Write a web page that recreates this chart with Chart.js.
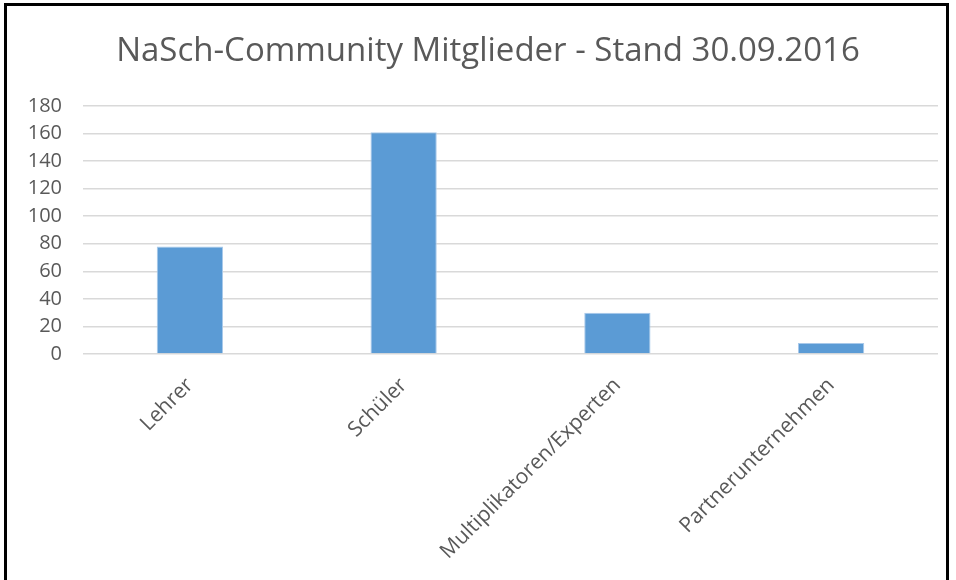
<!DOCTYPE html>
<html>
<head>
<meta charset="utf-8">
<script src="https://cdn.jsdelivr.net/npm/chart.js@4"></script>
<style>
  body { margin: 0; background: #fff; }
  #wrap { position: relative; width: 956px; height: 580px; overflow: hidden; }
  #frame { position: absolute; left: 4px; top: 3px; width: 939px; height: 700px; border: 3px solid #000; pointer-events: none; }
  canvas { position: absolute; left: 0; top: 0; }
</style>
</head>
<body>
<div id="wrap">
  <canvas id="memberChart" width="956" height="580"></canvas>
  <div id="frame"></div>
</div>
<script>
'use strict';

// chart data
var categories = ['Lehrer', 'Schüler', 'Multiplikatoren/Experten', 'Partnerunternehmen'];
var members = [78, 161, 30, 8];
var yTicks = [0, 20, 40, 60, 80, 100, 120, 140, 160, 180];
var chartTitle = 'NaSch-Community Mitglieder - Stand 30.09.2016';

var textGrey = '#595959';
var fontName = "'Open Sans', 'Noto Sans', sans-serif";

// title drawn by hand so it sits centred on the whole frame, not on the plot
var titlePlugin = {
  id: 'frameTitle',
  afterDraw: function(chart) {
    var c = chart.ctx;
    c.save();
    c.fillStyle = textGrey;
    c.font = '33px ' + fontName;
    c.textAlign = 'center';
    c.textBaseline = 'middle';
    c.fillText(chartTitle, 488, 52);
    c.restore();
  }
};

var ctx = document.getElementById('memberChart').getContext('2d');
var memberChart = new Chart(ctx, { //eslint-disable-line
  type: 'bar',
  data: {
    labels: categories,
    datasets: [{
      label: 'Mitglieder',
      data: members,
      backgroundColor: '#5b9bd5',
      borderColor: '#a9c9ea',
      borderWidth: 1,
      barPercentage: 0.31,
      categoryPercentage: 1
    }]
  },
  plugins: [titlePlugin],
  options: {
    responsive: false,
    animation: false,
    layout: { padding: { left: 0, right: 18, top: 106, bottom: 0 } },
    plugins: {
      legend: { display: false },
      tooltip: { enabled: false },
      title: { display: false }
    },
    scales: {
      x: {
        grid: { display: false },
        border: { display: false },
        ticks: {
          color: textGrey,
          font: { family: fontName, size: 21 },
          minRotation: 45,
          maxRotation: 45,
          padding: 11
        },
        afterFit: function(scale) { scale.height = 226; }
      },
      y: {
        min: 0,
        max: 180,
        afterBuildTicks: function(scale) {
          scale.ticks = yTicks.map(function(v) { return { value: v }; });
        },
        grid: { color: '#d9d9d9', lineWidth: 1.5, drawTicks: false },
        border: { display: false },
        ticks: {
          color: textGrey,
          font: { family: fontName, size: 20 },
          padding: 21
        },
        afterFit: function(scale) { scale.width = 83; }
      }
    }
  }
});
</script>
</body>
</html>
